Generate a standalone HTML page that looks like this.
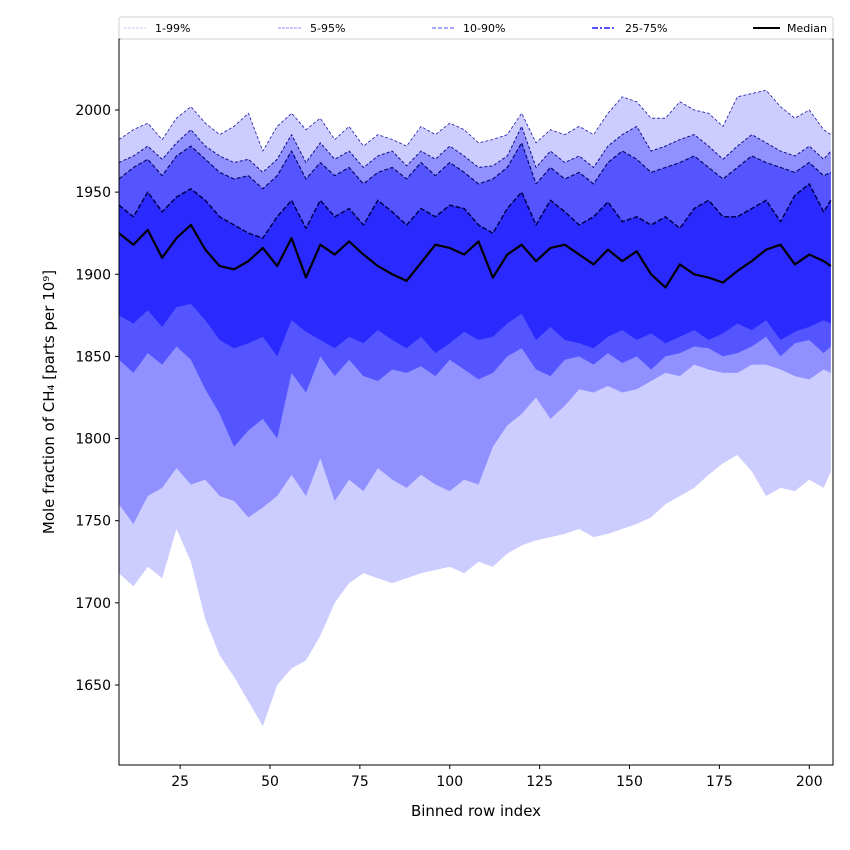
<!DOCTYPE html>
<html><head><meta charset="utf-8">
<style>
body{margin:0;background:#fff;width:850px;height:850px;overflow:hidden}
svg{display:block;font-family:"DejaVu Sans","Liberation Sans",sans-serif}
</style></head>
<body>
<svg id="chart" width="850" height="850" viewBox="0 0 850 850"></svg>
<script>
const xs=[8,12,16,20,24,28,32,36,40,44,48,52,56,60,64,68,72,76,80,84,88,92,96,100,104,108,112,116,120,124,128,132,136,140,144,148,152,156,160,164,168,172,176,180,184,188,192,196,200,204,206];
const p50=[1925,1918,1927,1910,1922,1930,1915,1905,1903,1908,1916,1905,1922,1898,1918,1912,1920,1912,1905,1900,1896,1907,1918,1916,1912,1920,1898,1912,1918,1908,1916,1918,1912,1906,1915,1908,1914,1900,1892,1906,1900,1898,1895,1902,1908,1915,1918,1906,1912,1908,1905];
const p75=[1942,1935,1950,1938,1947,1952,1945,1935,1930,1925,1922,1935,1945,1928,1945,1935,1940,1930,1945,1938,1930,1940,1935,1942,1940,1930,1925,1940,1950,1930,1945,1938,1930,1935,1944,1932,1935,1930,1935,1928,1940,1945,1935,1935,1940,1945,1932,1948,1955,1938,1945];
const p90=[1958,1965,1970,1960,1972,1978,1970,1962,1958,1960,1952,1960,1975,1958,1968,1960,1965,1955,1962,1965,1958,1968,1960,1968,1962,1955,1958,1965,1980,1955,1965,1958,1962,1955,1968,1975,1970,1962,1965,1968,1972,1965,1958,1965,1972,1968,1965,1962,1968,1960,1962];
const p95=[1968,1972,1978,1970,1980,1988,1978,1972,1968,1970,1962,1970,1985,1968,1980,1970,1975,1965,1972,1975,1966,1975,1970,1978,1972,1965,1966,1972,1990,1965,1975,1968,1972,1965,1978,1985,1990,1975,1978,1982,1985,1978,1970,1978,1985,1980,1975,1972,1978,1970,1975];
const p99=[1982,1988,1992,1982,1995,2002,1992,1985,1990,1998,1975,1990,1998,1988,1995,1982,1990,1978,1985,1982,1978,1990,1985,1992,1988,1980,1982,1985,1998,1980,1988,1985,1990,1985,1998,2008,2005,1995,1995,2005,2000,1998,1990,2008,2010,2012,2002,1995,2000,1988,1985];
const p25=[1875,1870,1878,1868,1880,1882,1872,1860,1855,1858,1862,1850,1872,1865,1860,1855,1862,1858,1866,1860,1855,1862,1852,1858,1865,1860,1862,1870,1876,1860,1868,1860,1858,1855,1862,1866,1860,1864,1858,1862,1866,1860,1864,1870,1866,1872,1860,1865,1868,1872,1870];
const p10=[1848,1840,1852,1845,1856,1848,1830,1815,1795,1805,1812,1800,1840,1828,1850,1838,1848,1838,1835,1842,1840,1844,1838,1848,1842,1836,1840,1850,1855,1842,1838,1848,1850,1845,1852,1846,1850,1842,1850,1852,1856,1855,1850,1852,1856,1862,1850,1858,1860,1852,1856];
const p5=[1760,1748,1765,1770,1782,1772,1775,1765,1762,1752,1758,1765,1778,1765,1788,1762,1775,1768,1782,1775,1770,1778,1772,1768,1775,1772,1795,1808,1815,1825,1812,1820,1830,1828,1832,1828,1830,1835,1840,1838,1845,1842,1840,1840,1845,1845,1842,1838,1836,1842,1840];
const p1=[1718,1710,1722,1715,1745,1725,1690,1668,1655,1640,1625,1650,1660,1665,1680,1700,1712,1718,1715,1712,1715,1718,1720,1722,1718,1725,1722,1730,1735,1738,1740,1742,1745,1740,1742,1745,1748,1752,1760,1765,1770,1778,1785,1790,1780,1765,1770,1768,1775,1770,1780];
const xTicks=[25,50,75,100,125,150,175,200];
const yTicks=[1650,1700,1750,1800,1850,1900,1950,2000];

const L=119,R=833,T=39,B=765;
const xMin=8,xMax=206.6,yMin=1601.3,yMax=2043.2;
const sx=v=>L+(v-xMin)/(xMax-xMin)*(R-L);
const sy=v=>B-(v-yMin)/(yMax-yMin)*(B-T);
const NS="http://www.w3.org/2000/svg";
const svg=document.getElementById('chart');
function mk(tag,attrs,parent){const e=document.createElementNS(NS,tag);for(const k in attrs)e.setAttribute(k,attrs[k]);(parent||svg).appendChild(e);return e;}
const clip=mk('clipPath',{id:'pc'});mk('rect',{x:L,y:T,width:R-L,height:B-T},clip);
const g=mk('g',{'clip-path':'url(#pc)'});
function band(lo,hi,fill,name){
  let d='M'+xs.map((x,i)=>sx(x)+','+sy(hi[i])).join('L');
  for(let i=xs.length-1;i>=0;i--)d+='L'+sx(xs[i])+','+sy(lo[i]);
  const p=mk('path',{d:d+'Z',fill:fill},g);
  
  
}
function line(arr,stroke,w,dash,name){
  const p=mk('polyline',{points:xs.map((x,i)=>sx(x)+','+sy(arr[i])).join(' '),fill:'none',stroke:stroke,'stroke-width':w,'stroke-dasharray':dash,'stroke-linejoin':'round'},g);
  
  
}
band(p1,p99,'#ccccff','band-1-99');
band(p5,p95,'#9090ff','band-5-95');
band(p10,p90,'#5555ff','band-10-90');
band(p25,p75,'#2a2aff','band-25-75');
line(p99,'#1a1aa8',0.8,'3,2','line-p99');
line(p95,'#10108a',1,'3,2','line-p95');
line(p90,'#0a0a70',1.2,'4,2','line-p90');
line(p75,'#000050',1.5,'5,2','line-p75');
line(p50,'#000',2.2,'none','median-line');

const frame=mk('rect',{x:L,y:T,width:R-L,height:B-T,fill:'none',stroke:'#000','stroke-width':1});


xTicks.forEach(v=>{
  const x=sx(v);
  mk('line',{x1:x,x2:x,y1:B,y2:B+4,stroke:'#000'});
  const t=mk('text',{x:x,y:B+21,'text-anchor':'middle','font-size':14});
  t.textContent=v;
  
  
});
yTicks.forEach(v=>{
  const y=sy(v);
  mk('line',{x1:L-4,x2:L,y1:y,y2:y,stroke:'#000'});
  const t=mk('text',{x:L-8,y:y+5,'text-anchor':'end','font-size':14});
  t.textContent=v;
  
  
});
</script>
<svg style="position:absolute;left:0;top:0" width="850" height="850">
<text x="476" y="816" text-anchor="middle" font-size="15" font-family="DejaVu Sans,sans-serif">Binned row index</text>
<text transform="translate(54,402) rotate(-90)" text-anchor="middle" font-size="15" font-family="DejaVu Sans,sans-serif">Mole fraction of CH₄ [parts per 10⁹]</text>
<g font-size="11" font-family="DejaVu Sans,sans-serif">
<rect x="119" y="17" width="714" height="22" rx="2" fill="#fff" stroke="#d0d0d0"/>
<line x1="124" y1="28" x2="146" y2="28" stroke="#ccccff" stroke-width="1" stroke-dasharray="3,1"/>
<text x="155" y="32">1-99%</text>
<line x1="278" y1="28" x2="301" y2="28" stroke="#9090ff" stroke-width="1" stroke-dasharray="3,1"/>
<text x="310" y="32">5-95%</text>
<line x1="432" y1="28" x2="455" y2="28" stroke="#7070ff" stroke-width="1.3" stroke-dasharray="4,2"/>
<text x="463" y="32">10-90%</text>
<line x1="592" y1="28" x2="615" y2="28" stroke="#5555ff" stroke-width="2" stroke-dasharray="6,2,2,2"/>
<text x="625" y="32">25-75%</text>
<line x1="753" y1="28" x2="780" y2="28" stroke="#000" stroke-width="2"/>
<text x="787" y="32">Median</text>
</g>
</svg>
</body></html>
